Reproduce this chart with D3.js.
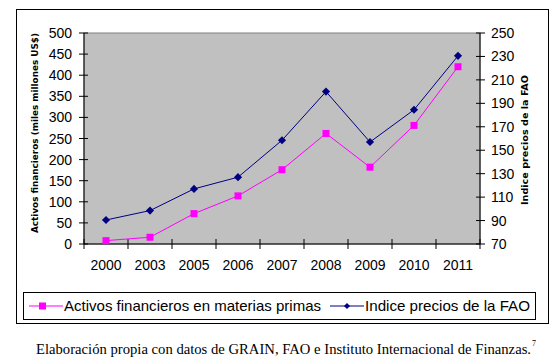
<!DOCTYPE html>
<html><head><meta charset="utf-8">
<script src="https://cdn.jsdelivr.net/npm/d3@7"></script>
<style>body{margin:0;background:#fff}svg{display:block}</style>
</head><body>
<svg id="c" width="550" height="364"></svg>
<script>
const years = ["2000","2003","2005","2006","2007","2008","2009","2010","2011"];
const activos = [8, 16, 72, 114, 176, 262, 182, 281, 420];
const faoIndex = [90.5, 98.5, 117, 127, 158.5, 200, 157, 184.5, 230.5];
const leftTicks = [0,50,100,150,200,250,300,350,400,450,500];
const rightTicks = [70,90,110,130,150,170,190,210,230,250];
const seriesNames = ["Activos financieros en materias primas","Indice precios de la FAO"];
const caption = "Elaboración propia con datos de GRAIN, FAO e Instituto Internacional de Finanzas.";

const svg = d3.select("#c");
const L=84, R=480, T=33, B=244;
const x = d3.scaleBand().domain(years).range([L,R]);
const yL = d3.scaleLinear().domain([0,500]).range([B,T]);
const yR = d3.scaleLinear().domain([70,250]).range([B,T]);
const font = "'Liberation Sans', Arial, sans-serif";

// outer border
svg.append("rect").attr("x",16.5).attr("y",9.5).attr("width",532).attr("height",314)
  .attr("fill","#fff").attr("stroke","#000");

// plot area
svg.append("rect").attr("x",L).attr("y",T).attr("width",R-L).attr("height",B-T)
  .attr("fill","#c0c0c0").attr("stroke","#808080");

// left axis
const gL = svg.append("g").attr("transform",`translate(${L},0)`);
gL.append("line").attr("x1",0).attr("x2",0).attr("y1",T).attr("y2",B).attr("stroke","#000");
gL.selectAll("line.t").data(leftTicks).join("line").attr("class","t")
  .attr("x1",-5).attr("x2",4).attr("y1",d=>yL(d)).attr("y2",d=>yL(d)).attr("stroke","#000");
gL.selectAll("text").data(leftTicks).join("text")
  .attr("x",-12).attr("y",d=>yL(d)).attr("dy","0.36em").attr("text-anchor","end")
  .attr("font-family",font).attr("font-size",14).text(d=>d);

// right axis
const gR = svg.append("g").attr("transform",`translate(${R},0)`);
gR.append("line").attr("x1",0).attr("x2",0).attr("y1",T).attr("y2",B).attr("stroke","#000");
gR.selectAll("line.t").data(rightTicks).join("line").attr("class","t")
  .attr("x1",-4).attr("x2",5).attr("y1",d=>yR(d)).attr("y2",d=>yR(d)).attr("stroke","#000");
gR.selectAll("text").data(rightTicks).join("text")
  .attr("x",11).attr("y",d=>yR(d)).attr("dy","0.36em").attr("text-anchor","start")
  .attr("font-family",font).attr("font-size",14).text(d=>d);

// bottom axis
const gB = svg.append("g").attr("transform",`translate(0,${B})`);
gB.append("line").attr("x1",L).attr("x2",R).attr("stroke","#000");
const bounds = years.map(d=>x(d)).concat([R]);
gB.selectAll("line.t").data(bounds).join("line").attr("class","t")
  .attr("x1",d=>d).attr("x2",d=>d).attr("y1",-5).attr("y2",5).attr("stroke","#000");
gB.selectAll("text").data(years).join("text")
  .attr("x",d=>x(d)+x.bandwidth()/2).attr("y",21).attr("dy","0.36em").attr("text-anchor","middle")
  .attr("font-family",font).attr("font-size",14).text(d=>d);

// axis titles
svg.append("text").attr("transform","translate(38,133) rotate(-90)")
  .attr("text-anchor","middle").attr("font-family","'DejaVu Sans', Verdana, sans-serif")
  .attr("font-weight","bold").attr("font-size",9.5).attr("textLength",200).attr("lengthAdjust","spacingAndGlyphs")
  .text("Activos financieros (miles millones US$)");
svg.append("text").attr("transform","translate(528,140) rotate(-90)")
  .attr("text-anchor","middle").attr("font-family","'DejaVu Sans', Verdana, sans-serif")
  .attr("font-weight","bold").attr("font-size",9.5).attr("textLength",130).attr("lengthAdjust","spacingAndGlyphs")
  .text("Indice precios de la FAO");

const cx = d=>x(d)+x.bandwidth()/2;
// series lines
const lineL = d3.line().x((d,i)=>cx(years[i])).y(d=>yL(d));
const lineR = d3.line().x((d,i)=>cx(years[i])).y(d=>yR(d));
svg.append("path").attr("d",lineL(activos)).attr("fill","none").attr("stroke","#ff00ff").attr("stroke-width",1);
svg.append("path").attr("d",lineR(faoIndex)).attr("fill","none").attr("stroke","#000080").attr("stroke-width",1);
svg.selectAll("rect.sq").data(activos).join("rect").attr("class","sq")
  .attr("x",(d,i)=>cx(years[i])-3.5).attr("y",d=>yL(d)-3.5).attr("width",7).attr("height",7).attr("fill","#ff00ff");
const diamond = d3.symbol().type(d3.symbolDiamond2).size(42);
svg.selectAll("path.dm").data(faoIndex).join("path").attr("class","dm")
  .attr("transform",(d,i)=>`translate(${cx(years[i])},${yR(d)})`).attr("d",diamond).attr("fill","#000080");

// legend
const lg = svg.append("g");
lg.append("rect").attr("x",23.5).attr("y",292.5).attr("width",512).attr("height",27)
  .attr("fill","#fff").attr("stroke","#000");
lg.append("line").attr("x1",29).attr("x2",63).attr("y1",306).attr("y2",306).attr("stroke","#ff00ff");
lg.append("rect").attr("x",39).attr("y",302.5).attr("width",7).attr("height",7).attr("fill","#ff00ff");
lg.append("text").attr("x",64).attr("y",306).attr("dy","0.36em").attr("font-family",font).attr("font-size",15)
  .attr("textLength",257).attr("lengthAdjust","spacingAndGlyphs").text(seriesNames[0]);
lg.append("line").attr("x1",330).attr("x2",364).attr("y1",306).attr("y2",306).attr("stroke","#000080");
lg.append("path").attr("transform","translate(347,306)").attr("d",d3.symbol().type(d3.symbolDiamond2).size(24)).attr("fill","#000080");
lg.append("text").attr("x",365).attr("y",306).attr("dy","0.36em").attr("font-family",font).attr("font-size",15)
  .attr("textLength",165).attr("lengthAdjust","spacingAndGlyphs").text(seriesNames[1]);

// caption
svg.append("text").attr("x",36).attr("y",354).attr("font-family","'Liberation Serif', 'DejaVu Serif', serif")
  .attr("font-size",14.5).attr("textLength",495).attr("lengthAdjust","spacingAndGlyphs").text(caption);
svg.append("text").attr("x",532).attr("y",346).attr("font-family","'Liberation Serif', 'DejaVu Serif', serif")
  .attr("font-size",8).text("7");
</script>
</body></html>
